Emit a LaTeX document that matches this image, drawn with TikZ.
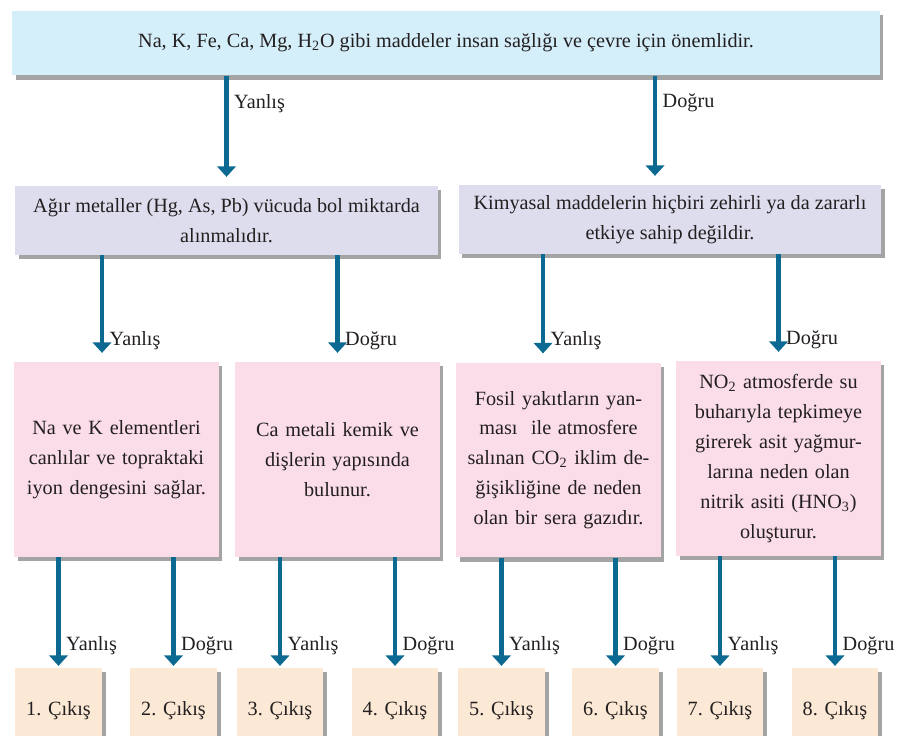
\documentclass[tikz,border=0pt]{standalone}
\usepackage{fontspec}
\setmainfont{Liberation Serif}
\usepackage{tikz}
\usetikzlibrary{positioning}
\usetikzlibrary{arrows.meta}
\usetikzlibrary{shadows}
\pgfdeclarelayer{nodelayer}
\pgfdeclarelayer{edgelayer}
\pgfsetlayers{nodelayer,edgelayer,main}
\definecolor{topblue}{HTML}{D4EEFA}
\definecolor{lilac}{HTML}{DEDDEE}
\definecolor{pinkbox}{HTML}{FADDE9}
\definecolor{peach}{HTML}{FCE9D5}
\definecolor{arrowblue}{HTML}{0C6A92}
\definecolor{inkgray}{HTML}{231F20}

\begin{document}
\begin{tikzpicture}[x=0.02cm, y=-0.02cm,
  box/.style={rectangle, align=center, inner sep=2pt, text=inkgray,
    font=\fontsize{11.5}{17}\selectfont,
    drop shadow={shadow xshift=2pt, shadow yshift=-2.5pt, fill=black!55, opacity=.65}},
  topbox/.style={box, fill=topblue, minimum width=17.36cm, minimum height=1.3cm},
  midbox/.style={box, fill=lilac, minimum width=8.46cm, minimum height=1.38cm},
  factbox/.style={box, fill=pinkbox, minimum width=4.04cm, minimum height=3.9cm, text width=3.95cm},
  exitbox/.style={box, fill=peach, minimum width=1.74cm, minimum height=1.7cm},
  arr/.style={draw=arrowblue, line width=2.8pt, -{Triangle[width=10.5pt,length=6pt]}},
  lbl/.style={right=1pt, text=inkgray, font=\fontsize{11.5}{13}\selectfont, inner sep=2pt}]
  \useasboundingbox (0,0) rectangle (900,736);
  \begin{pgfonlayer}{nodelayer}
    \node [topbox] (0) at (446, 43) {Na, K, Fe, Ca, Mg, H\textsubscript{2}O gibi maddeler insan sağlığı ve çevre için önemlidir.};
    \node [midbox] (1) at (226.5, 220.5) {Ağır metaller (Hg, As, Pb) vücuda bol miktarda\\alınmalıdır.};
    \node [midbox] (2) at (670, 219.5) {Kimyasal maddelerin hiçbiri zehirli ya da zararlı\\etkiye sahip değildir.};
    \node [factbox] (3) at (116.5, 459.5) {Na ve K elementleri\\canlılar ve topraktaki\\iyon dengesini sağlar.};
    \node [factbox] (4) at (337.5, 459.5) {Ca metali kemik ve\\dişlerin yapısında\\bulunur.};
    \node [factbox] (5) at (558.5, 460) {Fosil yakıtların yan-\\ması\ \ ile atmosfere\\salınan CO\textsubscript{2} iklim de-\\ğişikliğine de neden\\olan bir sera gazıdır.};
    \node [factbox] (6) at (778.5, 458.5) {NO\textsubscript{2} atmosferde su\\buharıyla tepkimeye\\girerek asit yağmur-\\larına neden olan\\nitrik asiti (HNO\textsubscript{3})\\oluşturur.};
    \node [exitbox] (7) at (58.5, 710.5) {1. Çıkış};
    \node [exitbox] (8) at (173.5, 710.5) {2. Çıkış};
    \node [exitbox] (9) at (280, 710.5) {3. Çıkış};
    \node [exitbox] (10) at (395, 710.5) {4. Çıkış};
    \node [exitbox] (11) at (501.5, 710.5) {5. Çıkış};
    \node [exitbox] (12) at (615.5, 710.5) {6. Çıkış};
    \node [exitbox] (13) at (720, 710.5) {7. Çıkış};
    \node [exitbox] (14) at (835, 710.5) {8. Çıkış};
    \coordinate (15) at ([xshift=-0.3cm]2.north);
    \coordinate (16) at ([xshift=-0.29cm]3.north);
    \coordinate (17) at ([xshift=-0.31cm]5.north);
  \end{pgfonlayer}
  \begin{pgfonlayer}{edgelayer}
    \draw [arr, shorten >=5pt] (0.south -| 1.north) -- node [lbl, pos=.25] (18) {Yanlış} (1.north);
    \draw [arr, shorten >=5pt] (0.south -| 15) -- node [lbl, pos=.25] (19) {Doğru} (15);
    \draw [arr, shorten >=5pt] (1.south -| 16) -- node [lbl, pos=.8] (20) {Yanlış} (16);
    \draw [arr, shorten >=5pt] (1.south -| 4.north) -- node [lbl, pos=.8] (21) {Doğru} (4.north);
    \draw [arr, shorten >=5pt] (2.south -| 17) -- node [lbl, pos=.8] (22) {Yanlış} (17);
    \draw [arr, shorten >=5pt] (2.south -| 6.north) -- node [lbl, pos=.8] (23) {Doğru} (6.north);
    \draw [arr, shorten >=1pt] (3.south -| 7.north) -- node [lbl, pos=.8] (24) {Yanlış} (7.north);
    \draw [arr, shorten >=1pt] (3.south -| 8.north) -- node [lbl, pos=.8] (25) {Doğru} (8.north);
    \draw [arr, shorten >=1pt] (4.south -| 9.north) -- node [lbl, pos=.8] (26) {Yanlış} (9.north);
    \draw [arr, shorten >=1pt] (4.south -| 10.north) -- node [lbl, pos=.8] (27) {Doğru} (10.north);
    \draw [arr, shorten >=1pt] (5.south -| 11.north) -- node [lbl, pos=.8] (28) {Yanlış} (11.north);
    \draw [arr, shorten >=1pt] (5.south -| 12.north) -- node [lbl, pos=.8] (29) {Doğru} (12.north);
    \draw [arr, shorten >=1pt] (6.south -| 13.north) -- node [lbl, pos=.8] (30) {Yanlış} (13.north);
    \draw [arr, shorten >=1pt] (6.south -| 14.north) -- node [lbl, pos=.8] (31) {Doğru} (14.north);
  \end{pgfonlayer}
\end{tikzpicture}
\end{document}
